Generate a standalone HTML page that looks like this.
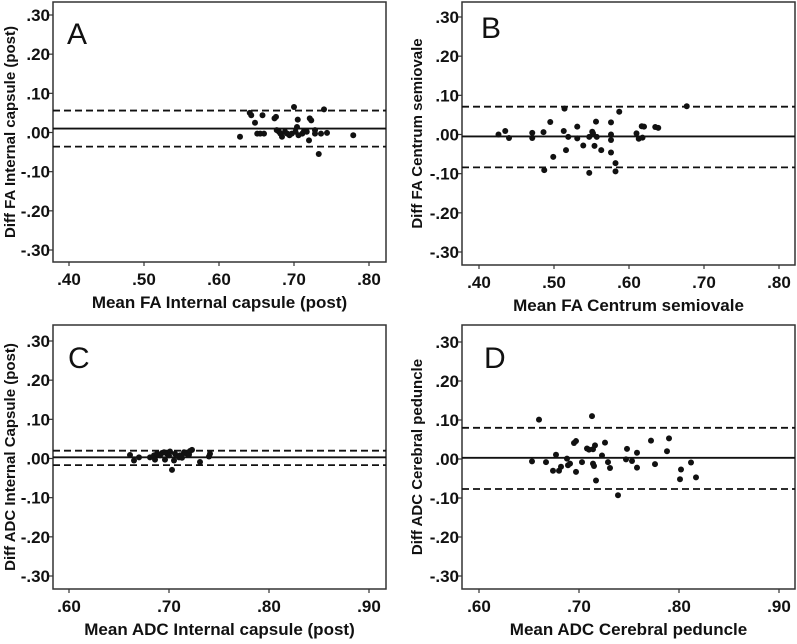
<!DOCTYPE html>
<html><head><meta charset="utf-8"><style>
html,body{margin:0;padding:0;background:#fff;}
svg text{font-family:"Liberation Sans",Arial,sans-serif;fill:#111;}
</style></head><body>
<svg id="fig" width="797" height="639" viewBox="0 0 797 639" xmlns="http://www.w3.org/2000/svg"></svg>
<script>
// Panel A data
const aMeans = [.628,.641,.643,.648,.651,.655,.658,.660,.674,.676,.677,.680,.682,.684,.688,.691,.694,.697,.700,.702,.704,.705,.706,.711,.713,.717,.720,.721,.723,.728,.728,.733,.736,.740,.744,.779];
const aDiffs = [-.011,.050,.044,.025,-.003,-.003,.044,-.003,.036,.040,.006,.002,-.003,-.011,.002,-.003,-.007,-.003,.065,.002,.014,.033,-.007,-.003,.002,.002,-.020,.036,.031,.006,-.003,-.055,-.003,.059,-.001,-.007];
const aLines = [.010,.056,-.036];
// Panel B data
const bMeans = [.426,.435,.440,.471,.471,.486,.487,.495,.499,.513,.514,.516,.519,.531,.531,.539,.547,.551,.552,.554,.556,.557,.563,.576,.576,.576,.576,.582,.582,.587,.610,.613,.617,.620,.618,.635,.639,.677,.547];
const bDiffs = [0,.009,-.009,.004,-.009,.006,-.091,.032,-.057,.009,.066,-.040,-.006,.020,-.010,-.028,-.006,.007,.003,-.029,.033,-.006,-.040,.031,0,-.014,-.046,-.073,-.094,.058,.003,-.011,.021,.020,-.008,.019,.017,.072,-.098];
const bLines = [-.005,.071,-.084];
// Panel C data
const cMeans = [.661,.665,.670,.681,.685,.686,.688,.691,.693,.695,.696,.698,.700,.701,.703,.705,.706,.710,.711,.713,.715,.716,.718,.720,.721,.723,.731,.740,.741];
const cDiffs = [.009,-.005,.003,.003,.008,-.003,.012,.008,.014,.016,-.003,.012,.008,.018,-.029,-.005,.012,.003,.008,.002,.016,.014,.012,.010,.019,.022,-.009,.005,.012];
const cLines = [.003,.020,-.017];
// Panel D data
const dMeans = [.653,.660,.667,.674,.677,.680,.682,.688,.689,.691,.695,.697,.697,.703,.708,.710,.713,.714,.714,.715,.716,.717,.723,.726,.729,.731,.739,.747,.748,.753,.758,.758,.772,.776,.788,.790,.801,.802,.812,.817];
const dDiffs = [-.006,.101,-.008,-.030,.011,-.030,-.020,.001,-.016,-.012,.041,.046,-.033,-.008,.027,.024,.110,-.012,.025,-.018,.035,-.055,.009,.042,-.008,-.023,-.093,-.001,.026,-.005,.016,-.022,.047,-.013,.020,.053,-.052,-.027,-.009,-.047];
const dLines = [.003,.080,-.077];
const yTicks = [.30,.20,.10,0,-.10,-.20,-.30];
const yTickLabels = [".30",".20",".10",".00","-.10","-.20","-.30"];
const xTicksAB = [.40,.50,.60,.70,.80];
const xTickLabelsAB = [".40",".50",".60",".70",".80"];
const xTicksCD = [.60,.70,.80,.90];
const xTickLabelsCD = [".60",".70",".80",".90"];

const NS="http://www.w3.org/2000/svg";
const svg=document.getElementById('fig');
function mk(tag,attrs,parent){const e=document.createElementNS(NS,tag);for(const k in attrs)e.setAttribute(k,attrs[k]);(parent||svg).appendChild(e);return e;}

const panels=[
 {id:'a',letter:'A',box:[53,2,386,262],x0:.40,px0:69,x1:.80,px1:369,y30:15,ym30:250,means:aMeans,diffs:aDiffs,lines:aLines,xt:xTicksAB,xl:xTickLabelsAB,xtitle:'Mean FA Internal capsule (post)',ytitle:'Diff FA Internal capsule (post)',lx:67,ly:44,ytx:11},
 {id:'b',letter:'B',box:[462,2,795,265],x0:.40,px0:479,x1:.80,px1:779,y30:17,ym30:252,means:bMeans,diffs:bDiffs,lines:bLines,xt:xTicksAB,xl:xTickLabelsAB,xtitle:'Mean FA Centrum semiovale',ytitle:'Diff FA Centrum semiovale',lx:481,ly:38,ytx:418},
 {id:'c',letter:'C',box:[53,325,386,589],x0:.60,px0:69,x1:.90,px1:369,y30:341,ym30:576,means:cMeans,diffs:cDiffs,lines:cLines,xt:xTicksCD,xl:xTickLabelsCD,xtitle:'Mean ADC Internal capsule (post)',ytitle:'Diff ADC Internal Capsule (post)',lx:68,ly:368,ytx:11},
 {id:'d',letter:'D',box:[462,325,795,589],x0:.60,px0:479,x1:.90,px1:779,y30:342,ym30:576,means:dMeans,diffs:dDiffs,lines:dLines,xt:xTicksCD,xl:xTickLabelsCD,xtitle:'Mean ADC Cerebral peduncle',ytitle:'Diff ADC Cerebral peduncle',lx:484,ly:368,ytx:418}
];

panels.forEach(p=>{
 const g=mk('g',{});
 
 
 const sx=v=>p.px0+(v-p.x0)*(p.px1-p.px0)/(p.x1-p.x0);
 const sy=v=>p.y30+(0.30-v)*(p.ym30-p.y30)/0.60;
 const [L,T,R,B]=p.box;
 const frame=mk('rect',{x:L,y:T,width:R-L,height:B-T,fill:'none',stroke:'#333','stroke-width':1.5},g);
 
 
 yTicks.forEach((v,i)=>{
  const y=sy(v);
  mk('line',{x1:L-4,x2:L,y1:y,y2:y,stroke:'#333','stroke-width':1.2},g);
  const t=mk('text',{x:L-3,y:y+6,'text-anchor':'end','font-size':17,'font-weight':'bold'},g);
  t.textContent=yTickLabels[i];
  
  
 });
 p.xt.forEach((v,i)=>{
  const x=sx(v);
  mk('line',{x1:x,x2:x,y1:B,y2:B+4,stroke:'#333','stroke-width':1.2},g);
  const t=mk('text',{x:x,y:B+23,'text-anchor':'middle','font-size':17,'font-weight':'bold'},g);
  t.textContent=p.xl[i];
  
  
 });
 p.lines.forEach((v,i)=>{
  const y=sy(v);
  const ln=mk('line',{x1:L,x2:R,y1:y,y2:y,stroke:'#111','stroke-width':1.8},g);
  if(i>0)ln.setAttribute('stroke-dasharray','7,4');
  
  
 });
 p.means.forEach((m,i)=>{
  const c=mk('circle',{cx:sx(m),cy:sy(p.diffs[i]),r:3,fill:'#111'},g);
  
  
 });
 const xt=mk('text',{x:(L+R)/2,y:B+46,'text-anchor':'middle','font-size':17,'font-weight':'bold'},g);
 xt.textContent=p.xtitle;
 
 
 const cy=(T+B)/2;
 const yt=mk('text',{x:p.ytx,y:cy,'text-anchor':'middle','font-size':15,'font-weight':'bold',transform:'rotate(-90 '+p.ytx+' '+cy+')','dominant-baseline':'middle'},g);
 yt.textContent=p.ytitle;
 
 
 const lt=mk('text',{x:p.lx,y:p.ly,'font-size':30},g);
 lt.textContent=p.letter;
 
 
});
</script>
</body></html>
